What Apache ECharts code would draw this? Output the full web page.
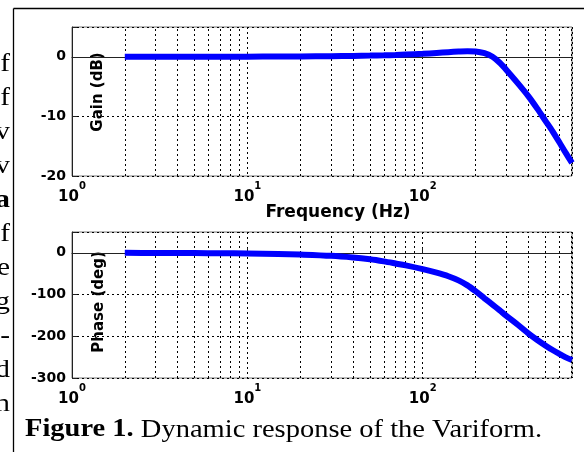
<!DOCTYPE html>
<html lang="en">
<head>
    <meta charset="UTF-8">
    <title>Bode</title>
    <style>
        html, body { margin: 0; padding: 0; background: #fff; }
        #main { width: 584px; height: 452px; }
    </style>
</head>
<body>
    <div id="main"></div>
    <script src="https://cdn.jsdelivr.net/npm/echarts@6/dist/echarts.min.js"></script>
    <script>
        // frequency points (Hz)
        var freq = [2, 3, 5, 7, 10, 15, 20, 30, 40, 50, 60, 70, 80, 100, 120, 140, 160, 180, 200,
            225, 250, 275, 300, 350, 400, 450, 500, 550, 600, 650, 710];
        // gain (dB)
        var gain = [0, 0, 0, 0, 0.02, 0.05, 0.07, 0.1, 0.15, 0.2, 0.25, 0.3, 0.37, 0.5, 0.65, 0.78, 0.88, 0.94, 0.9,
            0.6, 0, -1.0, -2.2, -4.5, -6.6, -8.7, -10.7, -12.5, -14.3, -16.0, -17.8];
        // phase (deg)
        var phase = [0, -0.3, -0.6, -1, -1.5, -2.5, -4, -7, -11, -15.5, -20.5, -25.5, -30, -39, -47.5, -56, -66, -78, -92,
            -109, -124, -138, -151, -173, -193, -209, -222, -233, -242, -250, -257];
        // minor grid lines of the log axis
        var minorFreq = [2, 3, 4, 5, 6, 7, 8, 9, 20, 30, 40, 50, 60, 70, 80, 90, 200, 300, 400, 500, 600, 700];
        // clipped letters of the neighbouring text column
        var sideLetters = ['f', 'f', 'v', 'v', 'a', 'f', 'e', 'g', '-', 'd', 'n'];

        var myChart = echarts.init(document.getElementById('main'));

        var tickFont = 'DejaVu Sans';
        var dotted = { type: [2, 3], color: '#000', width: 1 };

        function pairs(ys) {
            var out = [];
            for (var i = 0; i < freq.length; i++) out.push([freq[i], ys[i]]);
            return out;
        }

        function logLabel(v) {
            var e = Math.round(Math.log(v) / Math.LN10);
            if (Math.abs(Math.pow(10, e) - v) > 1e-6 * v) return '';
            return '{a|10}{s|' + e + '}';
        }

        function xAxisOpt(idx) {
            return {
                type: 'log', logBase: 10, gridIndex: idx, min: 1, max: 710,
                axisLine: { lineStyle: { color: '#222', width: 1 } },
                axisTick: { inside: true, length: 5, lineStyle: { color: '#222' } },
                splitLine: { show: true, lineStyle: dotted },
                axisLabel: {
                    margin: 5,
                    showMaxLabel: false,
                    formatter: logLabel,
                    rich: {
                        a: { fontFamily: tickFont, fontWeight: 'bold', fontSize: 15, color: '#000', lineHeight: 24, verticalAlign: 'bottom' },
                        s: { fontFamily: tickFont, fontWeight: 'bold', fontSize: 10, color: '#000', verticalAlign: 'top' }
                    }
                }
            };
        }

        function yAxisOpt(idx, min, max, interval) {
            return {
                type: 'value', gridIndex: idx, min: min, max: max, interval: interval,
                axisLine: { show: true, lineStyle: { color: '#222', width: 1 } },
                axisTick: { show: true, inside: true, length: 5, lineStyle: { color: '#222' } },
                splitLine: { show: true, lineStyle: dotted },
                axisLabel: {
                    margin: 6,
                    fontFamily: tickFont, fontWeight: 'bold', fontSize: 14, color: '#000',
                    formatter: function (v) { return v % interval === 0 ? String(v) : ''; }
                }
            };
        }

        function minorLines(idx) {
            var d = [];
            for (var i = 0; i < minorFreq.length; i++) d.push({ xAxis: minorFreq[i] });
            return {
                type: 'line', xAxisIndex: idx, yAxisIndex: idx, data: [], z: 1, silent: true,
                markLine: {
                    silent: true, symbol: 'none', animation: false,
                    label: { show: false },
                    lineStyle: dotted,
                    data: d
                }
            };
        }

        function curve(idx, ys) {
            return {
                type: 'line', xAxisIndex: idx, yAxisIndex: idx, z: 5,
                data: pairs(ys), showSymbol: false, smooth: 0.3, animation: false,
                lineStyle: { color: '#0000ff', width: 6 }
            };
        }

        var graphics = [
            { type: 'line', shape: { x1: 13.5, y1: 8.5, x2: 584, y2: 8.5 }, style: { stroke: '#000', lineWidth: 1.3 } },
            { type: 'line', shape: { x1: 13.5, y1: 8.5, x2: 13.5, y2: 452 }, style: { stroke: '#000', lineWidth: 1.3 } },
            {
                type: 'text', x: 98, y: 92, rotation: Math.PI / 2,
                style: { text: 'Gain (dB)', fontFamily: tickFont, fontWeight: 'bold', fontSize: 15, fill: '#000', align: 'center', verticalAlign: 'middle' }
            },
            {
                type: 'text', x: 99, y: 302, rotation: Math.PI / 2,
                style: { text: 'Phase (deg)', fontFamily: tickFont, fontWeight: 'bold', fontSize: 15, fill: '#000', align: 'center', verticalAlign: 'middle' }
            },
            {
                type: 'text', x: 338, y: 213,
                style: { text: 'Frequency (Hz)', fontFamily: tickFont, fontWeight: 'bold', fontSize: 17, fill: '#000', align: 'center', verticalAlign: 'middle' }
            },
            {
                type: 'text', x: 25, y: 430, scaleX: 1.14,
                style: {
                    text: '{b|Figure 1.}{r| Dynamic response of the Variform.}',
                    align: 'left', verticalAlign: 'middle',
                    rich: {
                        b: { fontFamily: 'Liberation Serif', fontWeight: 'bold', fontSize: 25, fill: '#000' },
                        r: { fontFamily: 'Liberation Serif', fontSize: 25, fill: '#000' }
                    }
                }
            }
        ];
        for (var i = 0; i < sideLetters.length; i++) {
            graphics.push({
                type: 'text', x: 10, y: 72 + 34 * i - 8, scaleX: 1.13,
                style: {
                    text: sideLetters[i], fontFamily: 'Liberation Serif', fontSize: 26,
                    fontWeight: sideLetters[i] === 'a' ? 'bold' : 'normal',
                    fill: '#000', align: 'right', verticalAlign: 'middle'
                }
            });
        }

        var option = {
            backgroundColor: '#fff',
            animation: false,
            grid: [
                { left: 72, top: 27, width: 500, height: 149, show: true, borderColor: '#777', borderWidth: 1, backgroundColor: 'transparent' },
                { left: 72, top: 232, width: 500, height: 146, show: true, borderColor: '#777', borderWidth: 1, backgroundColor: 'transparent' }
            ],
            xAxis: [xAxisOpt(0), xAxisOpt(1)],
            yAxis: [yAxisOpt(0, -20, 5, 10), yAxisOpt(1, -300, 50, 100)],
            series: [minorLines(0), minorLines(1), curve(0, gain), curve(1, phase)],
            graphic: graphics
        };
        myChart.setOption(option);
    </script>
</body>
</html>
